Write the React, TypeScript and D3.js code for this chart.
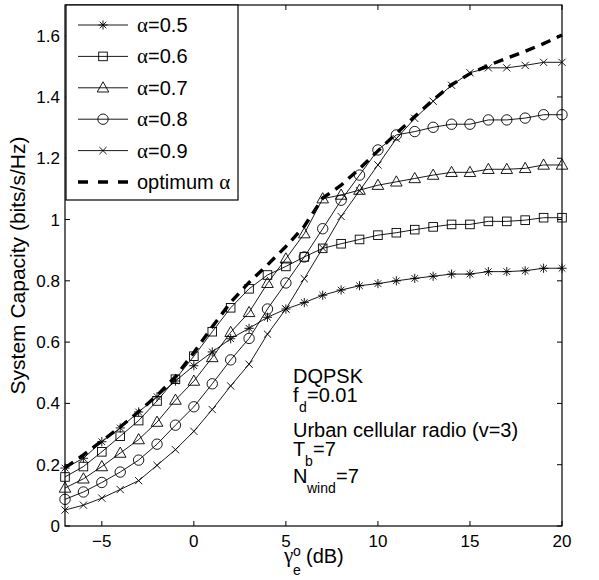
import React from 'react';
import * as d3 from 'd3';

const gammaDB = [-7, -6, -5, -4, -3, -2, -1, 0, 1, 2, 3, 4, 5, 6, 7, 8, 9, 10, 11, 12, 13, 14, 15, 16, 17, 18, 19, 20];
const alpha05 = [0.189, 0.221, 0.275, 0.320, 0.372, 0.422, 0.473, 0.523, 0.568, 0.611, 0.645, 0.681, 0.708, 0.729, 0.753, 0.770, 0.784, 0.791, 0.800, 0.808, 0.815, 0.822, 0.822, 0.830, 0.830, 0.833, 0.841, 0.841];
const alpha06 = [0.160, 0.194, 0.242, 0.293, 0.344, 0.408, 0.479, 0.554, 0.634, 0.712, 0.774, 0.819, 0.847, 0.878, 0.906, 0.921, 0.935, 0.949, 0.957, 0.967, 0.976, 0.984, 0.984, 0.994, 0.994, 0.998, 1.006, 1.006];
const alpha07 = [0.124, 0.154, 0.194, 0.238, 0.282, 0.339, 0.411, 0.473, 0.550, 0.632, 0.697, 0.792, 0.872, 0.954, 1.068, 1.080, 1.096, 1.112, 1.123, 1.134, 1.145, 1.154, 1.154, 1.164, 1.164, 1.167, 1.178, 1.178];
const alpha08 = [0.087, 0.111, 0.142, 0.176, 0.215, 0.267, 0.329, 0.389, 0.464, 0.542, 0.612, 0.708, 0.793, 0.878, 0.970, 1.063, 1.145, 1.227, 1.276, 1.287, 1.301, 1.311, 1.311, 1.325, 1.325, 1.331, 1.342, 1.342];
const alpha09 = [0.052, 0.068, 0.091, 0.119, 0.148, 0.198, 0.249, 0.309, 0.380, 0.457, 0.528, 0.626, 0.708, 0.807, 0.907, 1.010, 1.094, 1.178, 1.264, 1.330, 1.386, 1.438, 1.479, 1.495, 1.495, 1.503, 1.513, 1.513];
const optimum = [0.190, 0.232, 0.277, 0.323, 0.373, 0.426, 0.487, 0.566, 0.650, 0.730, 0.795, 0.852, 0.912, 0.978, 1.070, 1.112, 1.166, 1.224, 1.281, 1.336, 1.390, 1.440, 1.476, 1.503, 1.526, 1.549, 1.574, 1.602];

const seriesValues = [alpha05, alpha06, alpha07, alpha08, alpha09];
const seriesLabels = ['0.5', '0.6', '0.7', '0.8', '0.9'];
const seriesMarkers = ['asterisk', 'square', 'triangle', 'circle', 'cross'];
const optimumLabel = 'optimum ';

const xTicks = [-5, 0, 5, 10, 15, 20];
const xTickLabels = ['\u22125', '0', '5', '10', '15', '20'];
const yTicks = [0, 0.2, 0.4, 0.6, 0.8, 1, 1.2, 1.4, 1.6];
const yTickLabels = ['0', '0.2', '0.4', '0.6', '0.8', '1', '1.2', '1.4', '1.6'];

const SANS = '"Liberation Sans", Arial, Helvetica, sans-serif';
const SERIF = '"Liberation Serif", "Times New Roman", serif';

function Marker({ type, cx, cy }: { type: string; cx: number; cy: number }) {
  const common = { fill: 'none', stroke: '#000', strokeWidth: 0.9 };
  if (type === 'asterisk') {
    const s = 4.6, d = 3.3;
    return (
      <g {...common}>
        <line x1={cx - s} y1={cy} x2={cx + s} y2={cy} />
        <line x1={cx} y1={cy - s} x2={cx} y2={cy + s} />
        <line x1={cx - d} y1={cy - d} x2={cx + d} y2={cy + d} />
        <line x1={cx - d} y1={cy + d} x2={cx + d} y2={cy - d} />
      </g>
    );
  }
  if (type === 'square') {
    const s = 4.3;
    return <rect x={cx - s} y={cy - s} width={2 * s} height={2 * s} {...common} />;
  }
  if (type === 'triangle') {
    const w = 5.8;
    return <polygon points={`${cx},${cy - 6} ${cx + w},${cy + 4.2} ${cx - w},${cy + 4.2}`} {...common} />;
  }
  if (type === 'circle') {
    return <circle cx={cx} cy={cy} r={5.2} {...common} />;
  }
  const s = 3.6;
  return (
    <g {...common}>
      <line x1={cx - s} y1={cy - s} x2={cx + s} y2={cy + s} />
      <line x1={cx - s} y1={cy + s} x2={cx + s} y2={cy - s} />
    </g>
  );
}

export default function App() {
  const W = 599, H = 580;
  const left = 65, right = 562, top = 5, bottom = 526;
  const x = d3.scaleLinear().domain([-7, 20]).range([left, right]);
  const y = d3.scaleLinear().domain([0, 1.7]).range([bottom, top]);
  const line = d3.line<number>().x((_, i) => x(gammaDB[i])).y((d) => y(d));
  const tickLen = 5;

  const legendX = 66, legendY = 5, legendW = 172, legendH = 195;
  const rowY = (i: number) => 25 + i * 31.4;

  return (
    <svg width={W} height={H} style={{ position: 'absolute', left: 0, top: 0, background: '#fff' }}>
      <rect x={0} y={0} width={W} height={H} fill="#fff" />
      {seriesValues.map((vals, si) => (
        <g key={si}>
          <path d={line(vals) || ''} fill="none" stroke="#000" strokeWidth={0.9} />
          {vals.map((v, i) => (
            <Marker key={i} type={seriesMarkers[si]} cx={x(gammaDB[i])} cy={y(v)} />
          ))}
        </g>
      ))}
      <path d={line(optimum) || ''} fill="none" stroke="#000" strokeWidth={3.4} strokeDasharray="10,7" />

      <rect x={left} y={top} width={right - left} height={bottom - top} fill="none" stroke="#000" strokeWidth={1.2} />
      {xTicks.map((t, i) => (
        <g key={'xt' + i}>
          <line x1={x(t)} x2={x(t)} y1={bottom} y2={bottom - tickLen} stroke="#000" strokeWidth={1} />
          <line x1={x(t)} x2={x(t)} y1={top} y2={top + tickLen} stroke="#000" strokeWidth={1} />
          <text x={x(t)} y={547} textAnchor="middle" fontFamily={SANS} fontSize={17}>{xTickLabels[i]}</text>
        </g>
      ))}
      {yTicks.map((t, i) => (
        <g key={'yt' + i}>
          <line x1={left} x2={left + tickLen} y1={y(t)} y2={y(t)} stroke="#000" strokeWidth={1} />
          <line x1={right} x2={right - tickLen} y1={y(t)} y2={y(t)} stroke="#000" strokeWidth={1} />
          <text x={60} y={y(t) + 6} textAnchor="end" fontFamily={SANS} fontSize={17}>{yTickLabels[i]}</text>
        </g>
      ))}

      <text x={284} y={562} fontFamily={SERIF} fontSize={21}>γ</text>
      <text x={293} y={556} fontFamily={SANS} fontSize={14}>o</text>
      <text x={293} y={575} fontFamily={SANS} fontSize={14}>e</text>
      <text x={306} y={563} fontFamily={SANS} fontSize={20}>(dB)</text>
      <text transform={`translate(25,${(top + bottom) / 2}) rotate(-90)`} textAnchor="middle" fontFamily={SANS} fontSize={21}>
        System Capacity (bits/s/Hz)
      </text>

      <g fontFamily={SANS} fontSize={20}>
        <text x={293} y={383}>DQPSK</text>
        <text x={293} y={402}>f</text>
        <text x={299} y={412} fontSize={14}>d</text>
        <text x={307} y={402}>=0.01</text>
        <text x={293} y={437}>Urban cellular radio (v=3)</text>
        <text x={293} y={456}>T</text>
        <text x={305} y={466} fontSize={14}>b</text>
        <text x={313} y={456}>=7</text>
        <text x={293} y={483}>N</text>
        <text x={307} y={493} fontSize={14}>wind</text>
        <text x={336} y={483}>=7</text>
      </g>

      <rect x={legendX} y={legendY} width={legendW} height={legendH} fill="#fff" stroke="#000" strokeWidth={1.2} />
      {seriesLabels.map((lab, i) => (
        <g key={'lg' + i}>
          <line x1={78} x2={128} y1={rowY(i)} y2={rowY(i)} stroke="#000" strokeWidth={0.9} />
          <Marker type={seriesMarkers[i]} cx={103} cy={rowY(i)} />
          <text x={137} y={rowY(i) + 7} fontFamily={SANS} fontSize={20}>
            <tspan fontFamily={SERIF} fontSize={21}>α</tspan>={lab}
          </text>
        </g>
      ))}
      <line x1={78} x2={128} y1={rowY(5)} y2={rowY(5)} stroke="#000" strokeWidth={3.4} strokeDasharray="10,10" />
      <text x={137} y={rowY(5) + 7} fontFamily={SANS} fontSize={20}>
        {optimumLabel}<tspan fontFamily={SERIF} fontSize={21}>α</tspan>
      </text>
    </svg>
  );
}
